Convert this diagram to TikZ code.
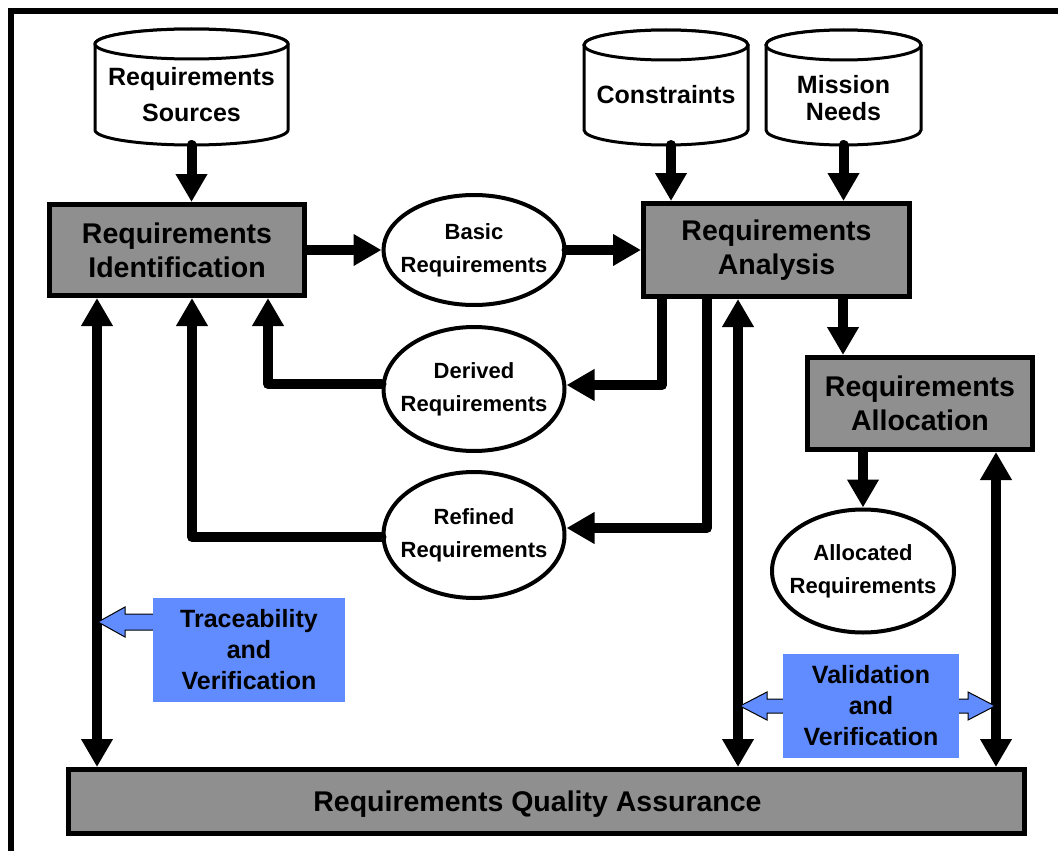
\documentclass[tikz,border=0pt]{standalone}
\usepackage{fontspec}
\setmainfont{Liberation Sans}
\usetikzlibrary{arrows.meta,shapes.geometric,calc,backgrounds}
\definecolor{boxgray}{RGB}{143,143,143}
\definecolor{tvblue}{RGB}{96,140,255}
\newcommand\drawcyl[2]{%
  \filldraw[cylline] (#1.north west) -- ($(#1.south west)+(0,-15)$)
    arc[start angle=180,end angle=0,x radius=#2,y radius=15]
    -- (#1.north east)
    arc[start angle=0,end angle=-180,x radius=#2,y radius=15] -- cycle;
  \draw[cylline] (#1.north) ellipse[x radius=#2,y radius=15];}
\begin{document}
\begin{tikzpicture}[x=1pt,y=-1pt,
  box/.style={draw, line width=5pt, fill=boxgray, align=center, inner sep=0pt,
    font=\bfseries\fontsize{28.5}{34}\selectfont},
  ell/.style={draw, ellipse, line width=4pt, fill=white, inner sep=0pt},
  elltext/.style={align=center, inner sep=0pt, font=\bfseries\fontsize{22}{33}\selectfont},
  cyltext/.style={align=center, inner sep=0pt, outer sep=0pt,
    font=\bfseries\fontsize{25}{36}\selectfont},
  cylline/.style={draw, line width=3pt, fill=white},
  conn/.style={line width=10pt, line cap=round, line join=round,
    -{Triangle[width=30pt,length=28pt]}},
  dconn/.style={line width=10pt,
    {Triangle[width=30pt,length=28pt]}-{Triangle[width=30pt,length=28pt]}},
  bluebox/.style={fill=tvblue, align=center, inner sep=0pt,
    font=\bfseries\fontsize{25}{31}\selectfont},
  hollow/.style={fill=tvblue, draw, line width=1pt, line join=miter}
]
\useasboundingbox (0,0) rectangle (1058,851);
% frame
\draw[line width=6pt] (11,870) -- (11,11) -- (1075,11);

% cylinder texts
\node[cyltext, minimum width=193pt, minimum height=101pt] (rs) at (191.5,94.5) {Requirements\\Sources};
\node[cyltext, minimum width=164pt, minimum height=100pt] (cons) at (666,95) {Constraints};
\node[cyltext, minimum width=155pt, minimum height=100pt,
  font=\bfseries\fontsize{25}{27}\selectfont] (miss) at (843.5,95) {\\[-3pt]Mission\\Needs};

% boxes
\node[box, minimum width=255pt, minimum height=91pt] (ri) at (177,250) {Requirements\\Identification};
\node[box, minimum width=266pt, minimum height=93pt] (ra) at (776.5,250) {Requirements\\Analysis};
\node[box, minimum width=225pt, minimum height=92pt] (ral) at (920,403.5) {Requirements\\Allocation};
\node[box, minimum width=956pt, minimum height=64pt] (rqa) at (546.5,801.5) {};
\node[font=\bfseries\fontsize{28.5}{34}\selectfont, inner sep=0pt] (rqatext) at ($(rqa.center)+(-9,3)$) {Requirements Quality Assurance};

% ellipses
\node[ell, minimum width=181pt, minimum height=110pt,
  label={[elltext]center:{Basic\\Requirements}}] (basic) at (474,250) {};
\node[ell, minimum width=181pt, minimum height=124pt,
  label={[elltext]center:{Derived\\Requirements}}] (der) at (474,389) {};
\node[ell, minimum width=181pt, minimum height=126pt,
  label={[elltext]center:{Refined\\Requirements}}] (ref) at (474,535) {};
\node[ell, minimum width=182pt, minimum height=123pt,
  label={[elltext]center:{Allocated\\Requirements}}] (alr) at (863,571) {};

\begin{pgfonlayer}{background}
\drawcyl{rs}{96.5}
\drawcyl{cons}{82}
\drawcyl{miss}{77.5}
\end{pgfonlayer}

% helper coordinates
\coordinate (c1) at ($(cons.south)+(5,0)$);
\coordinate (raA) at ($(ra.south)+(66.5,0)$);
\coordinate (raD) at ($(ra.south)+(-114.5,0)$);
\coordinate (raR) at ($(ra.south)+(-69.5,0)$);
\coordinate (raQ) at ($(ra.south)+(-38.5,0)$);
\coordinate (riD) at ($(ri.south)+(91,0)$);
\coordinate (riR) at ($(ri.south)+(15,0)$);
\coordinate (riQ) at ($(ri.south)+(-80,0)$);
\coordinate (ralQ) at ($(ral.south)+(76,0)$);

% connectors
\draw[conn] (rs.south) -- (rs.south |- ri.north);
\draw[conn] (ri.east) -- (basic.west);
\draw[conn] (basic.east) -- (ra.west);
\draw[conn] (c1) -- (c1 |- ra.north);
\draw[conn] (miss.south) -- (miss.south |- ra.north);
\draw[conn] (raA) -- (raA |- ral.north);
\draw[conn] (alr.north |- ral.south) -- (alr.north);
\draw[conn] (raD) |- ($(der.east)+(0,-4)$);
\draw[conn] ($(der.west)+(0,-5)$) -| (riD);
\draw[conn] (raR) |- ($(ref.east)+(0,-7)$);
\draw[conn] ($(ref.west)+(0,2)$) -| (riR);
\draw[dconn] (riQ) -- (riQ |- rqa.north);
\draw[dconn] (raQ) -- (raQ |- rqa.north);
\draw[dconn] (ralQ) -- (ralQ |- rqa.north);

% hollow arrows
\coordinate (tvtip) at (98,622);
\coordinate (vvl) at (740,706);
\coordinate (vvr) at (995,706);
\draw[hollow] (tvtip) -- ++(27,-15) -- ++(0,7) -- ++(32,0) -- ++(0,16) -- ++(-32,0) -- ++(0,7) -- cycle;
\draw[hollow] (vvl) -- ++(27,-14) -- ++(0,7) -- ++(20,0) -- ++(0,14) -- ++(-20,0) -- ++(0,7) -- cycle;
\draw[hollow] (vvr) -- ++(-27,-14) -- ++(0,7) -- ++(-14,0) -- ++(0,14) -- ++(14,0) -- ++(0,7) -- cycle;

% blue boxes
\node[bluebox, minimum width=192pt, minimum height=104pt] (tv) at (249,650) {Traceability\\and\\Verification};
\node[bluebox, minimum width=176pt, minimum height=104pt] (vv) at (871,706) {Validation\\and\\Verification};
\end{tikzpicture}
\end{document}
